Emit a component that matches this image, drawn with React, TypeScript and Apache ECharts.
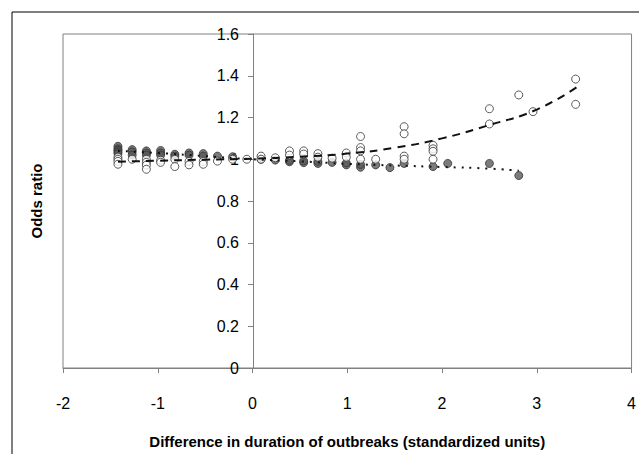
import React, { useEffect, useRef } from "react";
import * as echarts from "echarts";

const xTicks = [-2, -1, 0, 1, 2, 3, 4];
const yTicks = [0, 0.2, 0.4, 0.6, 0.8, 1.0, 1.2, 1.4, 1.6];

// open circles: [x, odds ratio]
const openX = [
  -1.42, -1.42, -1.42, -1.42, -1.27, -1.12, -1.12, -1.12, -1.12, -0.97, -0.97,
  -0.82, -0.82, -0.67, -0.67, -0.52, -0.52, -0.37, -0.21, -0.06, 0.09, 0.09,
  0.24, 0.39, 0.39, 0.54, 0.54, 0.69, 0.69, 0.84, 0.99, 0.99, 1.14, 1.14, 1.14,
  1.14, 1.3, 1.6, 1.6, 1.6, 1.6, 1.905, 1.905, 1.905, 1.905, 2.5, 2.5, 2.81,
  2.96, 3.41, 3.41,
];
const openY = [
  1.01, 1.0, 0.99, 0.976, 1.0, 1.0, 0.985, 0.972, 0.952, 0.995, 0.985, 1.0,
  0.965, 0.99, 0.973, 0.99, 0.976, 0.991, 1.0, 1.0, 1.015, 1.0, 1.007, 1.04,
  1.02, 1.04, 1.025, 1.027, 1.01, 1.005, 1.03, 1.01, 1.109, 1.056, 1.04, 1.0,
  1.0, 1.156, 1.122, 1.015, 1.0, 1.067, 1.05, 1.038, 1.0, 1.242, 1.169, 1.308,
  1.228, 1.384, 1.263,
];

// filled circles
const filledX = [
  -1.42, -1.42, -1.42, -1.42, -1.42, -1.27, -1.27, -1.27, -1.12, -1.12, -1.12,
  -0.97, -0.97, -0.97, -0.82, -0.82, -0.67, -0.67, -0.52, -0.52, -0.37, -0.21,
  0.09, 0.24, 0.39, 0.39, 0.54, 0.54, 0.69, 0.69, 0.84, 0.99, 0.99, 1.14, 1.14,
  1.3, 1.45, 1.6, 1.905, 2.06, 2.5, 2.81,
];
const filledY = [
  1.062, 1.05, 1.043, 1.035, 1.027, 1.046, 1.035, 1.02, 1.04, 1.03, 1.02,
  1.042, 1.03, 1.02, 1.024, 1.015, 1.03, 1.02, 1.027, 1.015, 1.015, 1.012,
  1.0, 0.996, 0.988, 0.995, 0.984, 0.992, 0.98, 0.99, 0.985, 0.973, 0.982,
  0.962, 0.975, 0.973, 0.96, 0.98, 0.965, 0.98, 0.98, 0.922,
];

// fitted trends
const dashX = [-1.42, -1, -0.5, 0, 0.5, 1.0, 1.5, 2.0, 2.5, 3.0, 3.42];
const dashY = [0.988, 0.993, 0.998, 1.003, 1.012, 1.027, 1.055, 1.1, 1.164, 1.238, 1.345];
const dotX = [-1.42, -1, -0.5, 0, 0.5, 1, 1.5, 2, 2.5, 2.81];
const dotY = [1.04, 1.03, 1.015, 1.0, 0.99, 0.978, 0.97, 0.963, 0.955, 0.945];

const zip = (a: number[], b: number[]) => a.map((v, i) => [v, b[i]]);

const FONT = "'Liberation Sans', Arial, sans-serif";

export default function App() {
  const ref = useRef<HTMLDivElement>(null);
  useEffect(() => {
    const chart = echarts.init(ref.current!, null, { renderer: "svg" });
    const yMin = yTicks[0];
    const yMax = yTicks[yTicks.length - 1];
    chart.setOption({
      animation: false,
      backgroundColor: "#fff",
      grid: {
        left: 63,
        right: 6,
        top: 34,
        bottom: 80,
        show: true,
        borderColor: "#808080",
        borderWidth: 1,
        backgroundColor: "transparent",
      },
      xAxis: {
        type: "value",
        min: xTicks[0],
        max: xTicks[xTicks.length - 1],
        interval: 1,
        splitLine: { show: false },
        axisLine: { onZero: false, lineStyle: { color: "#808080", width: 1 } },
        axisTick: { show: true, inside: false, length: 5, lineStyle: { color: "#808080" } },
        axisLabel: { color: "#000", fontSize: 16, fontFamily: FONT, margin: 27 },
        name: "Difference in duration of outbreaks (standardized units)",
        nameLocation: "middle",
        nameGap: 66,
        nameTextStyle: { color: "#000", fontSize: 15, fontWeight: "bold", fontFamily: FONT },
      },
      yAxis: [
        {
          type: "value",
          min: yMin,
          max: yMax,
          interval: 0.2,
          position: "left",
          offset: -190,
          splitLine: { show: false },
          axisLine: { show: true, onZero: false, lineStyle: { color: "#808080", width: 1 } },
          axisTick: { show: true, inside: false, length: 5, lineStyle: { color: "#808080" } },
          axisLabel: {
            color: "#000",
            fontSize: 16,
            fontFamily: FONT,
            margin: 14,
            formatter: (v: number) => (Math.abs(v) < 1e-9 ? "0" : String(Math.round(v * 10) / 10)),
          },
        },
        {
          type: "value",
          min: yMin,
          max: yMax,
          interval: 0.2,
          position: "left",
          splitLine: { show: false },
          axisLine: { show: false, onZero: false },
          axisTick: { show: false },
          axisLabel: { show: false },
          name: "Odds ratio",
          nameLocation: "middle",
          nameRotate: 90,
          nameGap: 19,
          nameTextStyle: { color: "#000", fontSize: 15, fontWeight: "bold", fontFamily: FONT },
        },
      ],
      graphic: [
        {
          type: "rect",
          shape: { x: 12, y: 12, width: 700, height: 500 },
          style: { fill: "none", stroke: "#000", lineWidth: 1 },
          silent: true,
          z: -1,
        },
      ],
      series: [
        {
          type: "scatter",
          data: zip(filledX, filledY),
          symbol: "circle",
          symbolSize: 8,
          itemStyle: { color: "#5a5a5a", borderColor: "#333", borderWidth: 1 },
          z: 2,
        },
        {
          type: "scatter",
          data: zip(openX, openY),
          symbol: "circle",
          symbolSize: 8,
          itemStyle: { color: "#fff", borderColor: "#333", borderWidth: 1 },
          z: 3,
        },
        {
          type: "line",
          data: zip(dashX, dashY),
          smooth: true,
          showSymbol: false,
          lineStyle: { color: "#111", width: 2, type: [8, 6] },
          z: 4,
        },
        {
          type: "line",
          data: zip(dotX, dotY),
          smooth: true,
          showSymbol: false,
          lineStyle: { color: "#111", width: 2, type: [2, 6] },
          z: 4,
        },
      ],
    });
    return () => chart.dispose();
  }, []);
  return (
    <div
      ref={ref}
      style={{ position: "fixed", left: 0, top: 0, width: 639, height: 454 }}
    />
  );
}
